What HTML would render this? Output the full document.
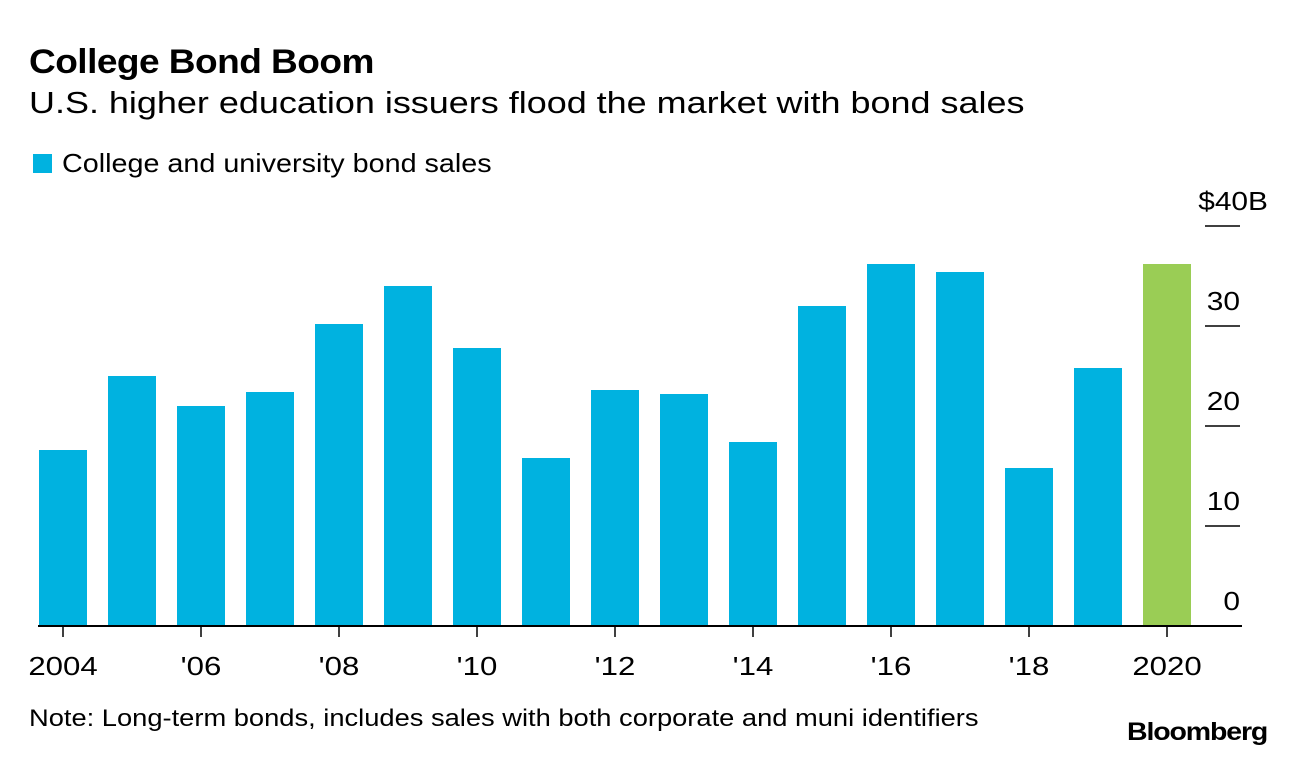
<!DOCTYPE html>
<html><head><meta charset="utf-8"><style>
body{margin:0;background:#fff;font-family:"Liberation Sans",sans-serif;}
#wrap{position:relative;width:1296px;height:760px;overflow:hidden;}
.t{position:absolute;white-space:nowrap;color:#000;transform-origin:0 0;}
</style></head><body><div id="wrap">
<div class="t" style="left:29px;top:43px;font-size:34px;font-weight:bold;letter-spacing:-0.5px;transform:scaleX(1.09)">College Bond Boom</div>
<div class="t" style="left:29px;top:85px;font-size:31px;transform:scaleX(1.16)">U.S. higher education issuers flood the market with bond sales</div>
<div style="position:absolute;left:33px;top:154px;width:19px;height:19px;background:#00b2e0"></div>
<div class="t" style="left:62px;top:148px;font-size:26px;transform:scaleX(1.105)">College and university bond sales</div>
<div class="t" style="left:29px;top:705px;font-size:24px;transform:scaleX(1.137)">Note: Long-term bonds, includes sales with both corporate and muni identifiers</div>
<div class="t" style="left:1127px;top:718px;font-size:25px;font-weight:bold;letter-spacing:-1px;transform:scaleX(1.14)">Bloomberg</div>
<svg id="c" width="1296" height="760" style="position:absolute;left:0;top:0"></svg>
</div>
<script>
const years=[2004,2005,2006,2007,2008,2009,2010,2011,2012,2013,2014,2015,2016,2017,2018,2019,2020];
const values=[17.6,25,22,23.4,30.2,34,27.8,16.8,23.6,23.2,18.4,32,36.2,35.4,15.8,25.8,36.2];
const yTicks=[0,10,20,30,40];
const yTickLabels=["0","10","20","30","$40B"];
const xLabelYears=[2004,2006,2008,2010,2012,2014,2016,2018,2020];
const xLabels=["2004","'06","'08","'10","'12","'14","'16","'18","2020"];
const svg=document.getElementById('c');const NS='http://www.w3.org/2000/svg';
const y=v=>626-v*10;const x=yr=>63+(yr-2004)*69;
function mk(t,a){const e=document.createElementNS(NS,t);for(const k in a)e.setAttribute(k,a[k]);svg.appendChild(e);return e;}
values.forEach((v,i)=>{const r=mk('rect',{x:x(years[i])-24,y:y(v),width:48,height:y(0)-y(v),fill:years[i]===2020?'#9acd55':'#00b2e0'});

});
yTicks.forEach((t,i)=>{if(t>0){const l=mk('line',{x1:1205,x2:1240,y1:y(t),y2:y(t),stroke:'#000','stroke-width':1.5});

}
const ex=(i===yTicks.length-1)?1268:1240;
const tx=mk('text',{transform:'translate('+ex+','+(y(t)-16)+') scale(1.15,1)','text-anchor':'end','font-size':26,'font-family':'Liberation Sans'});tx.textContent=yTickLabels[i];

});
const b=mk('line',{x1:38,x2:1242,y1:626,y2:626,stroke:'#000','stroke-width':2});


xLabelYears.forEach((yr,i)=>{const l=mk('line',{x1:x(yr),x2:x(yr),y1:626,y2:637,stroke:'#000','stroke-width':1.5});


const tx=mk('text',{transform:'translate('+x(yr)+',675) scale(1.2,1)','text-anchor':'middle','font-size':26,'font-family':'Liberation Sans'});tx.textContent=xLabels[i];

});
</script></body></html>
